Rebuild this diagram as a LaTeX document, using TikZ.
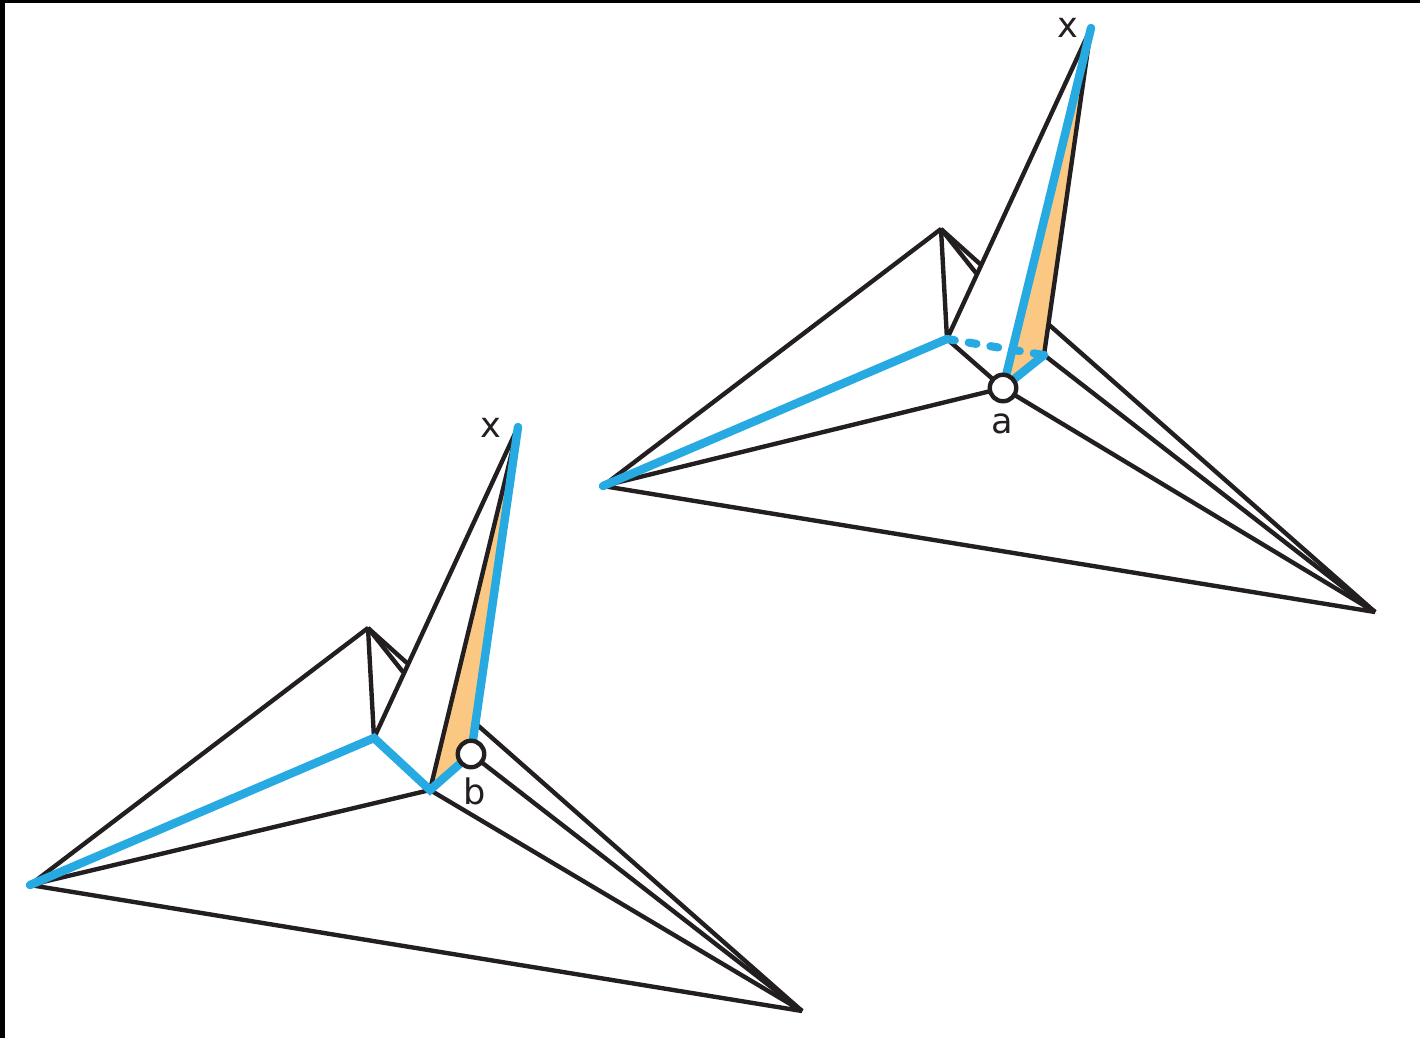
\documentclass[tikz,border=0pt]{standalone}
\usepackage{fontspec}
\setmainfont{DejaVu Sans}
\usepackage{tikz}
\definecolor{inkblack}{HTML}{231F20}
\definecolor{foldblue}{HTML}{27AAE1}
\definecolor{foldorange}{HTML}{FBC883}

\begin{document}
\begin{tikzpicture}[
    x=0.02cm,
    y=-0.02cm,
    every node/.style={font=\fontsize{20}{23}\selectfont, text=inkblack},
    crease/.style={draw=inkblack, line width=2.5pt, line join=bevel},
    path/.style={draw=foldblue, line width=4.8pt, line cap=round, line join=miter},
    hidden/.style={draw=foldblue, line width=4.6pt, line cap=round, dash pattern=on 4.5pt off 8pt},
    marker/.style={circle, draw=inkblack, fill=white, line width=2.5pt, minimum size=0.53cm, inner sep=0pt}
]
\useasboundingbox (0,0) rectangle (1420,1038);

% frame edges
\fill[black] (0,0) rectangle (1420,3);
\fill[black] (0,0) rectangle (5,1038);

% same crane twice, r = upper right, l = lower left
\foreach \c/\dx/\dy/\foldy in {r/0/0/388, l/-573/399/790} {
    \coordinate (\c tail) at (603+\dx,486+\dy);
    \coordinate (\c head) at (941+\dx,229+\dy);
    \coordinate (\c neck) at (947+\dx,339+\dy);
    \coordinate (\c top) at (1091+\dx,28+\dy);
    \coordinate (\c fold) at (1003+\dx,\foldy);
    \coordinate (\c inner) at (1044+\dx,355+\dy);
    \coordinate (\c wing) at (1375+\dx,612+\dy);
    \coordinate (\c outer) at (1047+\dx,323+\dy);
    \coordinate (\c beaka) at (980+\dx,264+\dy);
    \coordinate (\c beakb) at (976+\dx,273+\dy);

    \draw[crease] (\c tail) -- (\c head) -- (\c neck) -- (\c top);
    \draw[crease] (\c head) -- (\c beaka);
    \draw[crease] (\c head) -- (\c beakb);
    \draw[crease] (\c tail) -- (\c fold) -- (\c wing) -- (\c tail);
    \draw[crease] (\c neck) -- (\c fold);
    \draw[crease] (\c inner) -- (\c wing);
    \draw[crease] (\c outer) -- (\c wing);
}

% upper right crane
\fill[foldorange] (rtop) -- (rinner) -- (rfold) -- cycle;
\draw[crease] (rtop) -- (rinner);
\draw[path] (rtail) -- (rneck);
\draw[path] (rtop) -- (rfold) -- (rinner);
\draw[hidden] (rneck) -- (rinner);
\node[marker] (pointa) at (rfold) {};
\node (labela) at (1002,424) {a};
\node (labelxr) at (1068,28) {x};

% lower left crane
\fill[foldorange] (ltop) -- (lfold) -- (linner) -- cycle;
\draw[crease] (ltop) -- (lfold);
\draw[path] (ltail) -- (lneck) -- (lfold) -- (linner) -- (ltop);
\node[marker] (pointb) at (linner) {};
\node (labelb) at (475,791) {b};
\node (labelxl) at (491,428) {x};

\end{tikzpicture}
\end{document}
